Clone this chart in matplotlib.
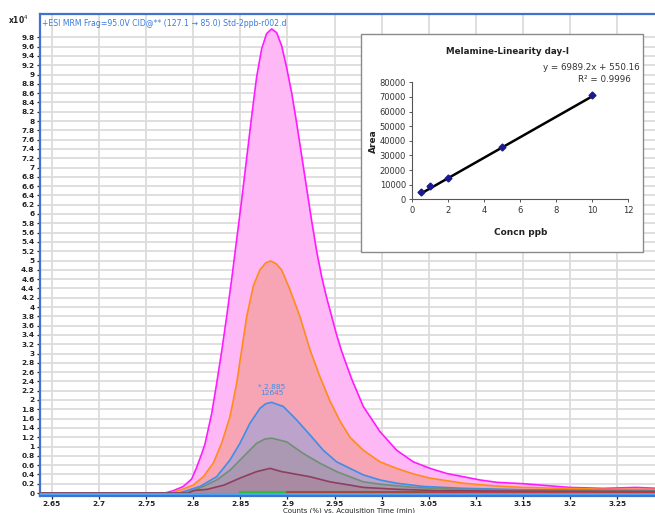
import numpy as np
import matplotlib
matplotlib.use("Agg")
import matplotlib.pyplot as plt
from matplotlib.patches import Rectangle

# ---------------- data ----------------
t_mag = [2.6373, 2.7700, 2.7788, 2.7894, 2.7983, 2.8036, 2.8082, 2.8124, 2.8195, 2.8248, 2.8302,
         2.8355, 2.8408, 2.8461, 2.8514, 2.8567, 2.8620, 2.8673, 2.8726, 2.8779, 2.8832, 2.8885,
         2.8938, 2.8991, 2.9045, 2.9098, 2.9151, 2.9204, 2.9257, 2.9310, 2.9363, 2.9416, 2.9469,
         2.9522, 2.9575, 2.9628, 2.9682, 2.9805, 2.9982, 3.0159, 3.0336, 3.0513, 3.0690, 3.0867,
         3.1044, 3.1221, 3.1500, 3.1750, 3.2000, 3.2350, 3.2700, 3.2933]
v_mag = [0.00, 0.00, 0.05, 0.14, 0.30, 0.55, 0.80, 1.05, 1.70, 2.35, 3.05,
         3.80, 4.60, 5.45, 6.30, 7.20, 8.10, 8.95, 9.55, 9.88, 9.98, 9.90,
         9.62, 9.15, 8.60, 7.95, 7.25, 6.55, 5.85, 5.20, 4.65, 4.20, 3.80,
         3.40, 3.05, 2.75, 2.45, 1.86, 1.32, 0.92, 0.67, 0.53, 0.42, 0.35,
         0.28, 0.23, 0.20, 0.16, 0.12, 0.10, 0.12, 0.10]

t_org = [2.6373, 2.7750, 2.7859, 2.8000, 2.8106, 2.8212, 2.8301, 2.8390, 2.8461, 2.8514, 2.8567,
         2.8637, 2.8708, 2.8770, 2.8821, 2.8880, 2.8938, 2.9027, 2.9133, 2.9239, 2.9345, 2.9451,
         2.9557, 2.9663, 2.9805, 2.9982, 3.0159, 3.0336, 3.0513, 3.0867, 3.1221, 3.1500, 3.1900,
         3.2400, 3.2933]
v_org = [0.00, 0.00, 0.06, 0.17, 0.35, 0.64, 1.07, 1.64, 2.36, 3.08, 3.79,
         4.45, 4.80, 4.95, 4.99, 4.93, 4.80, 4.37, 3.79, 3.08, 2.50, 1.98,
         1.55, 1.20, 0.92, 0.67, 0.53, 0.41, 0.32, 0.21, 0.15, 0.12, 0.10,
         0.08, 0.08]

t_blu = [2.6373, 2.7850, 2.7930, 2.8071, 2.8248, 2.8390, 2.8496, 2.8602, 2.8708, 2.8770, 2.8832,
         2.8956, 2.9098, 2.9239, 2.9380, 2.9522, 2.9663, 2.9805, 2.9982, 3.0159, 3.0442, 3.0867,
         3.1500, 3.2933]
v_blu = [0.00, 0.00, 0.05, 0.14, 0.35, 0.71, 1.07, 1.50, 1.82, 1.92, 1.95,
         1.86, 1.57, 1.25, 0.92, 0.67, 0.53, 0.39, 0.28, 0.21, 0.14, 0.10,
         0.07, 0.05]

t_gry = [2.6373, 2.7900, 2.8000, 2.8106, 2.8248, 2.8390, 2.8531, 2.8673, 2.8760, 2.8832, 2.8991,
         2.9168, 2.9345, 2.9522, 2.9663, 2.9805, 2.9982, 3.0336, 3.0800, 3.1500, 3.2933]
v_gry = [0.00, 0.00, 0.05, 0.14, 0.28, 0.49, 0.78, 1.07, 1.16, 1.18, 1.10,
         0.85, 0.64, 0.46, 0.35, 0.24, 0.19, 0.12, 0.08, 0.06, 0.04]

t_drd = [2.6373, 2.7950, 2.8000, 2.8150, 2.8326, 2.8496, 2.8673, 2.8815, 2.8938, 2.9239, 2.9451,
         2.9663, 2.9805, 3.0159, 3.0600, 3.1500, 3.2933]
v_drd = [0.00, 0.00, 0.05, 0.08, 0.17, 0.32, 0.46, 0.53, 0.46, 0.35, 0.24,
         0.17, 0.12, 0.08, 0.05, 0.04, 0.03]

# baseline traces of other transitions
t_base_green = [2.8500, 3.0500]
v_base_green = [0.02, 0.02]
t_base_red = [2.9000, 3.2933]
v_base_red = [0.03, 0.03]
t_base_blue = [2.6373, 3.2933]
v_base_blue = [-0.02, -0.02]

peak_rt = "2.885"
peak_val = "12645"
peak_pos = (2.8832, 1.95)

x_ticks = [2.65, 2.7, 2.75, 2.8, 2.85, 2.9, 2.95, 3.0, 3.05, 3.1, 3.15, 3.2, 3.25]
x_tick_labels = ["2.65", "2.7", "2.75", "2.8", "2.85", "2.9", "2.95", "3", "3.05", "3.1", "3.15", "3.2", "3.25"]
y_ticks = [round(0.2 * i, 1) for i in range(50)]

# calibration inset
conc = [0.5, 1, 2, 5, 10]
area = [4900, 9300, 14800, 36000, 71000]
slope, intercept = 6989.2, 550.16
eq_text = "y = 6989.2x + 550.16"
r2_text = "R² = 0.9996"

title_text = "+ESI MRM Frag=95.0V CID@** (127.1 → 85.0) Std-2ppb-r002.d"

# ---------------- figure ----------------
W, H = 655, 513
fig = plt.figure(figsize=(W / 100, H / 100), dpi=100)
fig.patch.set_facecolor("white")

def fx(px):
    return px / W

def fy(py):
    return 1 - py / H

ax_l, ax_r, ax_t, ax_b = 40, 658, 14, 496
ax = fig.add_axes([fx(ax_l), fy(ax_b), (ax_r - ax_l) / W, (ax_b - ax_t) / H])
ax.set_xlim(2.6373, 2.6373 + (ax_r - ax_l) / 942.0)
ax.set_ylim(-3 / 46.5, 479 / 46.5)

# grid
ax.set_xticks(x_ticks)
ax.set_xticklabels(x_tick_labels)
ax.set_yticks(y_ticks)
ax.set_yticklabels([("%g" % v) for v in y_ticks])
ax.grid(True, color="#dcdcdc", lw=1.3)
ax.set_axisbelow(True)

# series (filled peaks)
series = [
    (t_mag, v_mag, "#ff1aff", "#ffb8f6"),
    (t_org, v_org, "#ff8c1a", "#f7a4b4"),
    (t_blu, v_blu, "#3d8ee8", "#bda2cc"),
    (t_gry, v_gry, "#6f9073", "#ab98b2"),
    (t_drd, v_drd, "#8e3f5c", "#a98aa3"),
]
for t, v, lc, fc in series:
    ax.fill_between(t, 0, v, color=fc, lw=0, zorder=2)
    ax.plot(t, v, color=lc, lw=1.2, zorder=3)

ax.plot(t_base_blue, v_base_blue, color="#4aa3f0", lw=1.5, zorder=3)
ax.plot(t_base_green, v_base_green, color="#2fbf3f", lw=1.5, zorder=3)
ax.plot(t_base_red, v_base_red, color="#c83232", lw=1.2, zorder=3)

ax.text(peak_pos[0], peak_pos[1] + 0.13, "* " + peak_rt + "\n" + peak_val,
        ha="center", va="bottom", fontsize=5.3, color="#3d8ee8",
        linespacing=1.0, zorder=4)

for s in ax.spines.values():
    s.set_color("#3f73cf")
    s.set_linewidth(1.6)

ax.tick_params(axis="both", direction="out", length=2.5, width=0.9, color="#222222",
               labelsize=5.3, labelcolor="#222222", pad=1.5)
ax.tick_params(axis="x", pad=1)
for lab in ax.get_xticklabels() + ax.get_yticklabels():
    lab.set_fontweight("bold")

ax.text(0.004, 0.99, title_text, transform=ax.transAxes, ha="left", va="top",
        fontsize=5.6, color="#3a7be0", zorder=5)

fig.text(fx(8), fy(20), "x10$^4$", fontsize=5.5, color="#222222", ha="left", va="center",
         fontweight="bold")
fig.text(fx(349), fy(507.5), "Counts (%) vs. Acquisition Time (min)", fontsize=5.0,
         color="#222222", ha="center", va="top")

# ---------------- inset ----------------
box = Rectangle((fx(361), fy(252)), (643 - 361) / W, (252 - 34) / H,
                transform=fig.transFigure, facecolor="white", edgecolor="#8a8a8a",
                lw=1.0, zorder=10)
fig.patches.append(box)

ix_l, ix_r, iy_t, iy_b = 412.3, 628.3, 82.3, 199.3
iax = fig.add_axes([fx(ix_l), fy(iy_b), (ix_r - ix_l) / W, (iy_b - iy_t) / H], zorder=11)
iax.set_facecolor("none")
iax.set_xlim(0, 12)
iax.set_ylim(0, 80000)
iax.set_xticks(range(0, 13, 2))
iax.set_yticks(range(0, 80001, 10000))
for s in ["top", "right"]:
    iax.spines[s].set_visible(False)
for s in ["left", "bottom"]:
    iax.spines[s].set_color("#555555")
    iax.spines[s].set_linewidth(0.8)
iax.tick_params(direction="out", length=2.5, width=0.7, colors="#555555",
                labelsize=6, labelcolor="#333333", pad=2)

xf = np.array([conc[0], conc[-1]])
iax.plot(xf, slope * xf + intercept, color="black", lw=1.8, zorder=2)
iax.plot(conc, area, linestyle="none", marker="D", markersize=3.5,
         color="#1a1a8c", zorder=3, clip_on=False)

iax.set_xlabel("Concn ppb", fontsize=6.5, fontweight="bold", labelpad=10, color="#222222")
iax.set_ylabel("Area", fontsize=6.5, fontweight="bold", labelpad=1, color="#222222")
fig.text(fx(507), fy(52), "Melamine-Linearity day-I", fontsize=6.3, fontweight="bold",
         ha="center", va="center", color="#222222", zorder=12)
fig.text(fx(640), fy(68), eq_text, fontsize=6.3, ha="right", va="center",
         color="#333333", zorder=12)
fig.text(fx(631), fy(80), r2_text, fontsize=6.3, ha="right", va="center",
         color="#333333", zorder=12)

fig.savefig("out.png", dpi=100)
